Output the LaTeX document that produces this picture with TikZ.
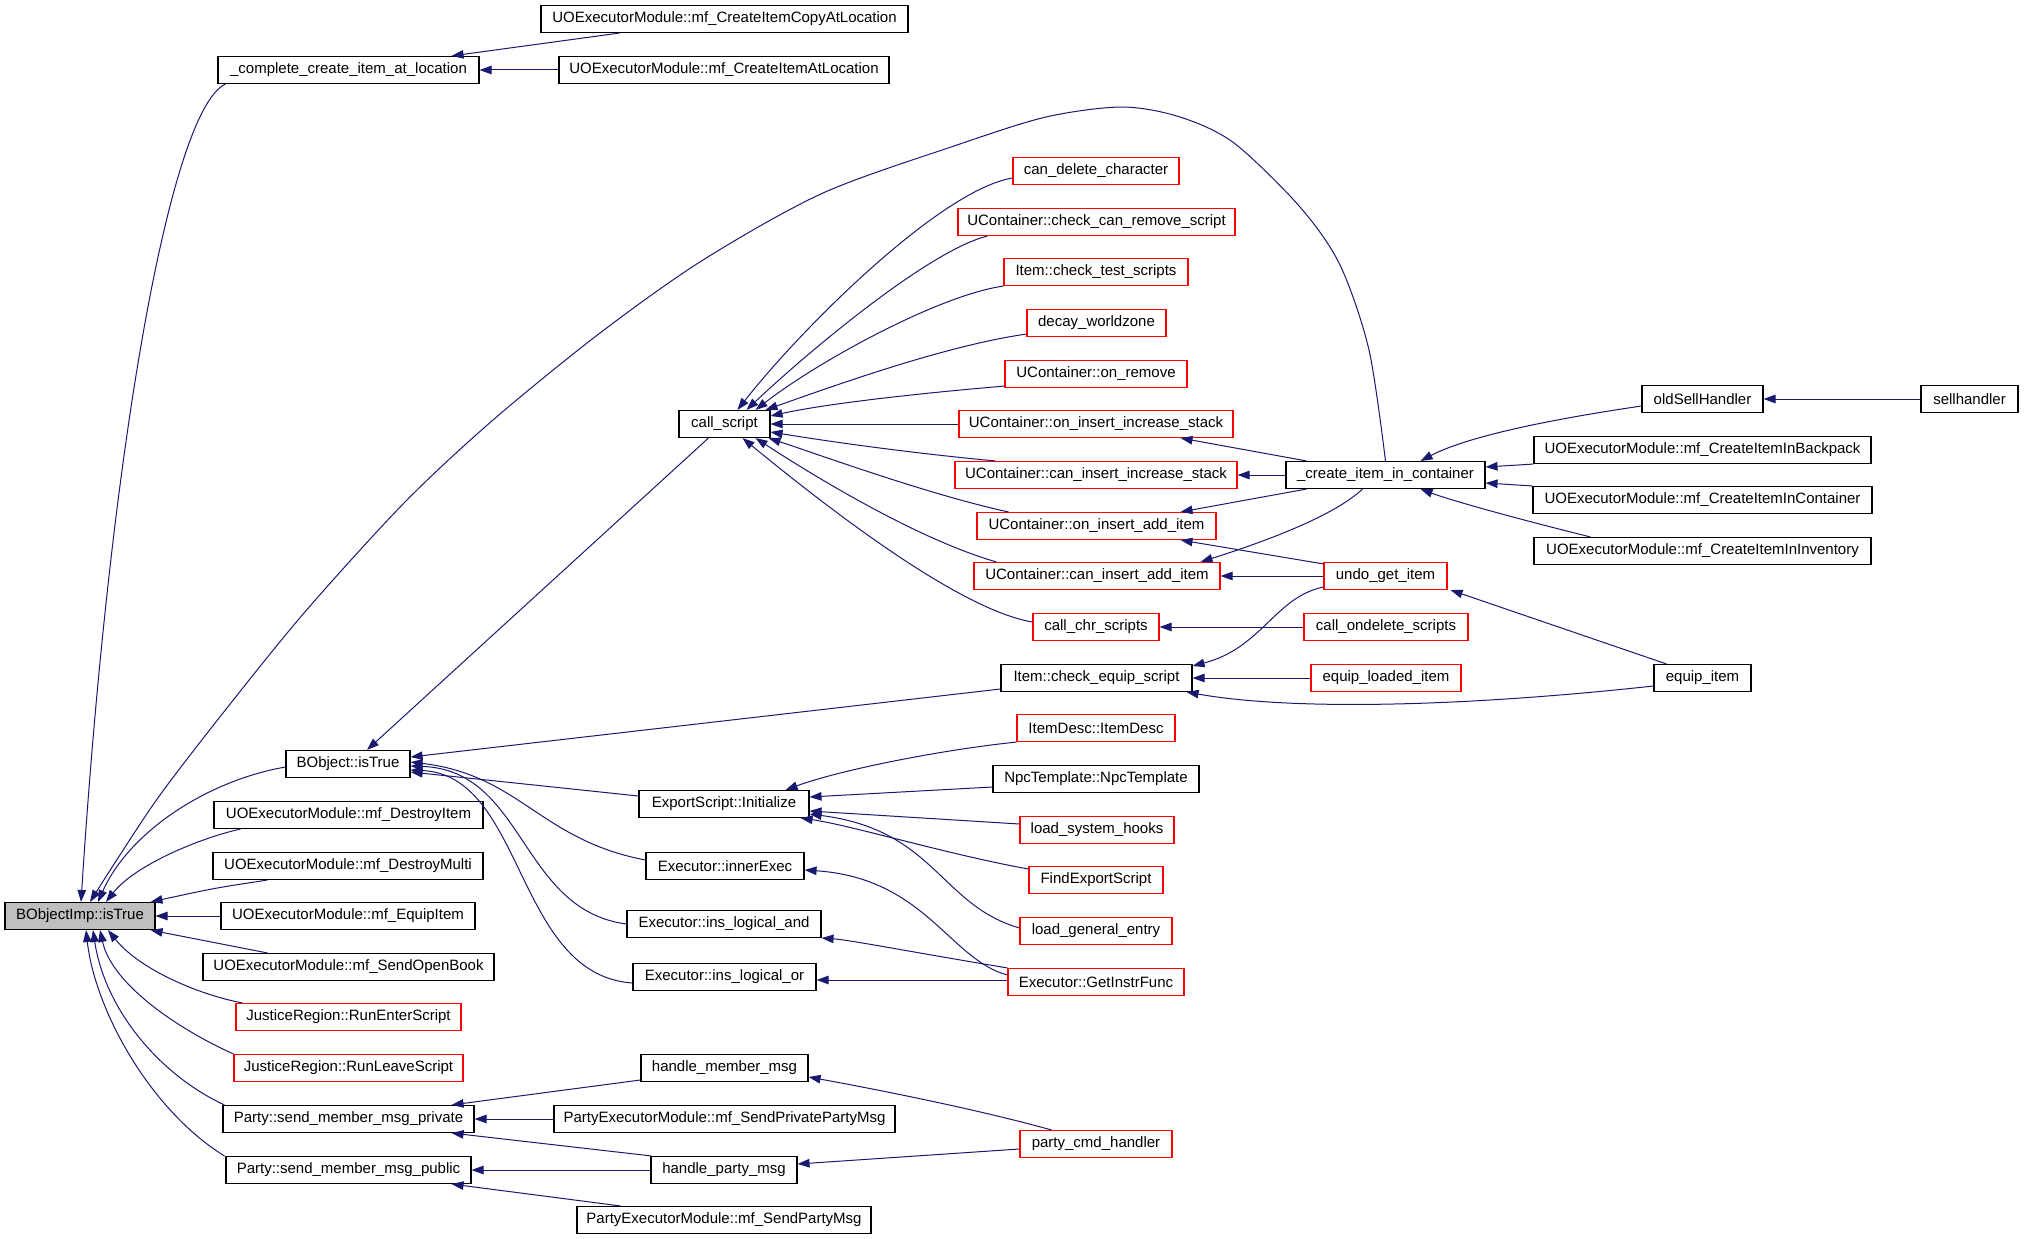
\documentclass[tikz,border=0pt]{standalone}
\usepackage{fontspec}
\setmainfont{Liberation Sans}
\usetikzlibrary{arrows.meta,calc}
\definecolor{edgec}{RGB}{25,25,112}
\definecolor{redc}{RGB}{255,0,0}
\definecolor{grayc}{RGB}{191,191,191}
\begin{document}
\begin{tikzpicture}[x=1pt,y=-1pt,
 fnbox/.style={draw=black, line width=1.1pt, rectangle, inner sep=0pt, minimum height=27pt, font=\fontsize{15}{18}\selectfont},
 rbox/.style={fnbox, draw=redc},
 edg/.style={draw=edgec, line width=1pt, -{Triangle[length=12pt,width=8.5pt]}}]
\fill[white] (0,0) rectangle (2024,1239);
\useasboundingbox (0,0) rectangle (2024,1239);
% column A
\node[fnbox, fill=grayc, minimum width=150pt] (imp) at (80,916) {BObjectImp::isTrue};
% column B
\node[fnbox, minimum width=261pt] (cc) at (348.5,70) {\_complete\_create\_item\_at\_location};
\node[fnbox, minimum width=124pt] (bobj) at (348,764) {BObject::isTrue};
\node[fnbox, minimum width=269pt] (ditem) at (348.5,815) {UOExecutorModule::mf\_DestroyItem};
\node[fnbox, minimum width=270pt] (dmulti) at (348,866) {UOExecutorModule::mf\_DestroyMulti};
\node[fnbox, minimum width=254pt] (eqmod) at (348,916) {UOExecutorModule::mf\_EquipItem};
\node[fnbox, minimum width=291pt] (obook) at (348.5,967) {UOExecutorModule::mf\_SendOpenBook};
\node[rbox, minimum width=225pt] (renter) at (348.5,1017) {JusticeRegion::RunEnterScript};
\node[rbox, minimum width=229pt] (rleave) at (348.5,1068) {JusticeRegion::RunLeaveScript};
\node[fnbox, minimum width=251pt] (priv) at (348.5,1119) {Party::send\_member\_msg\_private};
\node[fnbox, minimum width=245pt] (pub) at (348.5,1170) {Party::send\_member\_msg\_public};
% column C
\node[fnbox, minimum width=367pt] (copyloc) at (724.5,19) {UOExecutorModule::mf\_CreateItemCopyAtLocation};
\node[fnbox, minimum width=330pt] (atloc) at (724,70) {UOExecutorModule::mf\_CreateItemAtLocation};
\node[fnbox, minimum width=91pt] (cs) at (724.5,424) {call\_script};
\node[fnbox, minimum width=170pt] (exp) at (724,804) {ExportScript::Initialize};
\node[fnbox, minimum width=158pt] (inner) at (725,866) {Executor::innerExec};
\node[fnbox, minimum width=194pt] (land) at (724,924) {Executor::ins\_logical\_and};
\node[fnbox, minimum width=183pt] (lor) at (724.5,977) {Executor::ins\_logical\_or};
\node[fnbox, minimum width=167pt] (hm) at (724.5,1068) {handle\_member\_msg};
\node[fnbox, minimum width=341pt] (sppm) at (724.5,1119) {PartyExecutorModule::mf\_SendPrivatePartyMsg};
\node[fnbox, minimum width=146pt] (hp) at (724,1170) {handle\_party\_msg};
\node[fnbox, minimum width=294pt] (spm) at (724,1220) {PartyExecutorModule::mf\_SendPartyMsg};
% column D
\node[rbox, minimum width=166pt] (candel) at (1096,171) {can\_delete\_character};
\node[rbox, minimum width=277pt] (ccr) at (1096.5,222) {UContainer::check\_can\_remove\_script};
\node[rbox, minimum width=184pt] (cts) at (1096,272) {Item::check\_test\_scripts};
\node[rbox, minimum width=139pt] (decay) at (1096.5,323) {decay\_worldzone};
\node[rbox, minimum width=182pt] (onrem) at (1096,374) {UContainer::on\_remove};
\node[rbox, minimum width=274pt] (oiis) at (1096,424) {UContainer::on\_insert\_increase\_stack};
\node[rbox, minimum width=282pt] (ciis) at (1096,475) {UContainer::can\_insert\_increase\_stack};
\node[rbox, minimum width=239pt] (oiai) at (1096.5,526) {UContainer::on\_insert\_add\_item};
\node[rbox, minimum width=246pt] (ciai) at (1097,576) {UContainer::can\_insert\_add\_item};
\node[rbox, minimum width=126pt] (chr) at (1096,627) {call\_chr\_scripts};
\node[fnbox, minimum width=191pt] (ces) at (1096.5,678) {Item::check\_equip\_script};
\node[rbox, minimum width=158pt] (itemdesc) at (1096,728) {ItemDesc::ItemDesc};
\node[fnbox, minimum width=206pt] (npc) at (1096,779) {NpcTemplate::NpcTemplate};
\node[rbox, minimum width=154pt] (lsh) at (1097,830) {load\_system\_hooks};
\node[rbox, minimum width=134pt] (fes) at (1096,880) {FindExportScript};
\node[rbox, minimum width=152pt] (lge) at (1096,931) {load\_general\_entry};
\node[rbox, minimum width=176pt] (gif) at (1096,982) {Executor::GetInstrFunc};
\node[rbox, minimum width=152pt] (pch) at (1096,1144) {party\_cmd\_handler};
% column E
\node[fnbox, minimum width=199pt] (cic) at (1385.5,475) {\_create\_item\_in\_container};
\node[rbox, minimum width=123pt] (ugi) at (1385.5,576) {undo\_get\_item};
\node[rbox, minimum width=164pt] (cods) at (1386,627) {call\_ondelete\_scripts};
\node[rbox, minimum width=150pt] (eli) at (1386,678) {equip\_loaded\_item};
% column F
\node[fnbox, minimum width=121pt] (osh) at (1702.5,399) {oldSellHandler};
\node[fnbox, minimum width=337pt] (bp) at (1702.5,450) {UOExecutorModule::mf\_CreateItemInBackpack};
\node[fnbox, minimum width=339pt] (cont) at (1702.5,500) {UOExecutorModule::mf\_CreateItemInContainer};
\node[fnbox, minimum width=337pt] (inv) at (1702.5,551) {UOExecutorModule::mf\_CreateItemInInventory};
\node[fnbox, minimum width=97pt] (ei) at (1702.5,678) {equip\_item};
% column G
\node[fnbox, minimum width=97pt] (sh) at (1969.5,399) {sellhandler};

% edges into BObjectImp::isTrue
\draw[edg] ($(cc.south west)+(8,0)$) .. controls (170,110) and (110,450) .. ($(imp.north)+(1,0)$);
\draw[edg] plot[smooth, tension=0.5] coordinates {(cic.north) (1369,350) (1340,265) (1300,207) (1234,143) (1180,117) (1122,107) (1046,117) (957,145) (823,193) (703,260) (600,333) (493,420) (404,503) (304,613) (223,713) (160,795) (118,858) ([xshift=10pt]imp.north)};
\draw[edg] ($(bobj.west)+(0,3)$) .. controls (210,780) and (130,830) .. ($(imp.north)+(18,0)$);
\draw[edg] ($(ditem.south west)+(27,0)$) .. controls (200,838) and (135,865) .. ($(imp.north)+(26,0)$);
\draw[edg] ($(dmulti.south west)+(55,0)$) .. controls (215,888) .. ($(imp.north east)+(-5,0)$);
\draw[edg] (eqmod.west) -- (imp.east);
\draw[edg] ($(obook.north west)+(65,0)$) .. controls (215,943) .. ($(imp.south east)+(-5,0)$);
\draw[edg] ($(renter.north west)+(7,0)$) .. controls (200,995) and (140,970) .. ($(imp.south)+(28,0)$);
\draw[edg] (rleave.north west) .. controls (180,1030) and (112,985) .. ($(imp.south)+(20,0)$);
\draw[edg] ($(priv.north west)+(2,0)$) .. controls (160,1075) and (105,1010) .. ($(imp.south)+(13,0)$);
\draw[edg] ($(pub.north west)+(-1,0)$) .. controls (150,1110) and (95,1010) .. ($(imp.south)+(6,0)$);
% into _complete_create_item_at_location
\draw[edg] ($(copyloc.south west)+(79,0)$) -- ($(cc.north east)+(-28,0)$);
\draw[edg] (atloc.west) -- (cc.east);
% into BObject::isTrue
\draw[edg] ($(cs.south west)+(30,0)$) -- ($(bobj.north)+(19,0)$);
\draw[edg] ($(ces.west)+(0,11)$) -- ($(bobj.east)+(0,-7)$);
\draw[edg] ($(exp.west)+(0,-8)$) -- ($(bobj.east)+(0,8)$);
\draw[edg] ($(inner.west)+(0,-6)$) .. controls (540,840) and (520,775) .. ($(bobj.east)+(0,-2)$);
\draw[edg] (land.west) .. controls (520,910) and (525,770) .. ($(bobj.east)+(0,2)$);
\draw[edg] ($(lor.west)+(0,6)$) .. controls (515,975) and (525,775) .. ($(bobj.east)+(0,6)$);
% into call_script
\draw[edg] ($(candel.west)+(0,7)$) .. controls (940,190) and (800,330) .. ($(cs.north)+(13,0)$);
\draw[edg] ($(ccr.south west)+(30,0)$) .. controls (930,250) and (810,350) .. ($(cs.north)+(22,0)$);
\draw[edg] (cts.south west) .. controls (940,295) and (820,360) .. ($(cs.north)+(31,0)$);
\draw[edg] ($(decay.south west)+(0,-3)$) .. controls (950,345) and (850,380) .. ($(cs.north east)+(-5,0)$);
\draw[edg] ($(onrem.south west)+(0,-2)$) .. controls (900,395) and (820,405) .. ($(cs.east)+(0,-8)$);
\draw[edg] (oiis.west) -- (cs.east);
\draw[edg] ($(ciis.north west)+(41,0)$) .. controls (900,452) and (820,440) .. ($(cs.east)+(0,8)$);
\draw[edg] ($(oiai.north west)+(32,0)$) .. controls (930,495) and (820,455) .. ($(cs.south east)+(-2,0)$);
\draw[edg] ($(ciai.north west)+(23,0)$) .. controls (920,540) and (820,480) .. ($(cs.south east)+(-15,0)$);
\draw[edg] ($(chr.west)+(0,-5)$) .. controls (960,610) and (830,510) .. ($(cs.south east)+(-28,0)$);
% from _create_item_in_container
\draw[edg] ($(cic.north west)+(21,0)$) -- ($(oiis.south east)+(-53,0)$);
\draw[edg] (cic.west) -- (ciis.east);
\draw[edg] ($(cic.south west)+(21,0)$) -- ($(oiai.north east)+(-36,0)$);
\draw[edg] ($(cic.south west)+(77,0)$) .. controls (1335,515) and (1270,540) .. ($(ciai.north east)+(-20,0)$);
% into _create_item_in_container
\draw[edg] ($(osh.west)+(0,7)$) .. controls (1560,418) and (1470,435) .. ($(cic.north east)+(-65,0)$);
\draw[edg] (bp.south west) -- ($(cic.east)+(0,-8)$);
\draw[edg] (cont.north west) -- ($(cic.east)+(0,8)$);
\draw[edg] ($(inv.north west)+(57,0)$) .. controls (1510,517) and (1450,500) .. ($(cic.south east)+(-65,0)$);
\draw[edg] (sh.west) -- (osh.east);
% undo_get_item and others
\draw[edg] ($(ugi.north west)+(0,2)$) -- ($(oiai.south east)+(-36,0)$);
\draw[edg] (ugi.west) -- (ciai.east);
\draw[edg] ($(ugi.west)+(0,11)$) .. controls (1275,597) and (1262,648) .. ($(ces.north east)+(0,2)$);
\draw[edg] ($(ei.north west)+(13,0)$) -- ($(ugi.south east)+(3,0)$);
\draw[edg] (cods.west) -- (chr.east);
\draw[edg] (eli.west) -- (ces.east);
\draw[edg] ($(ei.west)+(0,8)$) .. controls (1480,705) and (1300,712) .. ($(ces.south east)+(-6,0)$);
% into ExportScript::Initialize
\draw[edg] (itemdesc.south west) .. controls (940,750) and (840,770) .. ($(exp.north east)+(-24,0)$);
\draw[edg] ($(npc.west)+(0,8)$) -- ($(exp.east)+(0,-7)$);
\draw[edg] ($(lsh.west)+(0,-6)$) -- ($(exp.east)+(0,7)$);
\draw[edg] ($(fes.west)+(0,-11)$) .. controls (950,855) and (850,825) .. ($(exp.south east)+(-9,0)$);
\draw[edg] ($(lge.west)+(0,-3)$) .. controls (940,905) and (935,830) .. ($(exp.east)+(0,10)$);
% Executor
\draw[edg] ($(gif.west)+(0,-7)$) .. controls (950,960) and (925,878) .. ($(inner.east)+(0,4)$);
\draw[edg] (gif.north west) .. controls (900,950) and (850,940) .. (land.south east);
\draw[edg] ($(gif.west)+(0,-2)$) -- ($(lor.east)+(0,3)$);
% Party
\draw[edg] ($(hm.west)+(0,12)$) -- ($(priv.north east)+(-23,0)$);
\draw[edg] (sppm.west) -- (priv.east);
\draw[edg] ($(hp.north west)+(1,0)$) -- ($(priv.south east)+(-23,0)$);
\draw[edg] (hp.west) -- (pub.east);
\draw[edg] ($(spm.north west)+(44,0)$) -- ($(pub.south east)+(-20,0)$);
\draw[edg] ($(pch.north west)+(32,0)$) .. controls (980,1110) and (880,1090) .. ($(hm.east)+(0,9)$);
\draw[edg] ($(pch.west)+(0,5)$) -- ($(hp.east)+(0,-6)$);
\end{tikzpicture}
\end{document}
